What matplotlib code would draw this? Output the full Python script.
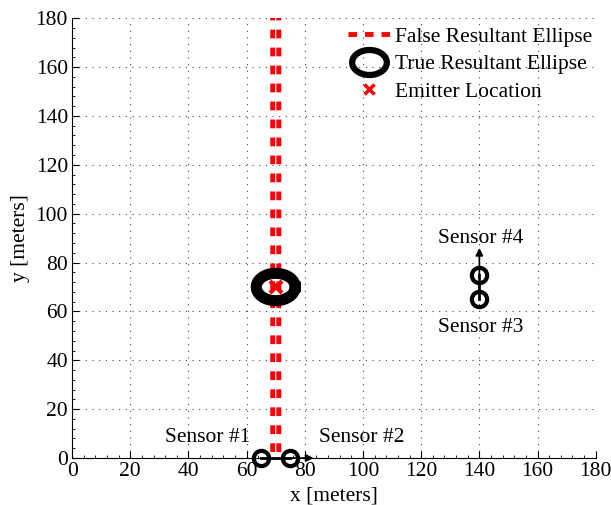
import numpy as np
import matplotlib
matplotlib.use("Agg")
import matplotlib.pyplot as plt
from matplotlib.lines import Line2D
from matplotlib.path import Path
from matplotlib.ticker import MultipleLocator

plt.rcParams['font.family'] = ['Liberation Serif', 'DejaVu Serif']

# Geometry (meters)
emitter = (70, 70)
true_ellipse_axes = (6.7, 5.6)        # semi-axes of the true resultant ellipse
false_ellipse_axes = (1.05, 2000.0)   # semi-axes of the degenerate false ellipse
sensor_x = [65, 75, 140, 140]
sensor_y = [0, 0, 65, 75]
sensor_names = ["Sensor #1", "Sensor #2", "Sensor #3", "Sensor #4"]
label_x = [46.5, 99.5, 140.5, 140.5]
label_y = [8.2, 8.2, 53.5, 90]
arrow_h = ((75, 0), (83, 0))
arrow_v = ((140, 75), (140, 86))

FS = 15.5

fig = plt.figure(figsize=(6.11, 5.05), dpi=100)
ax = fig.add_axes([0.118, 0.093, 0.857, 0.871])

dash = (0, (1.8, 1.9))
# False resultant ellipse: both long sides traced bottom-to-top so the dashes line up
t_right = np.linspace(-np.pi / 2, np.pi / 2, 2000)
t_left = np.linspace(3 * np.pi / 2, np.pi / 2, 2000)
for tt in (t_right, t_left):
    ax.plot(emitter[0] + false_ellipse_axes[0] * np.cos(tt),
            emitter[1] + false_ellipse_axes[1] * np.sin(tt),
            color='red', lw=3.5, linestyle=dash, zorder=3)

# True resultant ellipse
t = np.linspace(0, 2 * np.pi, 400)
ax.plot(emitter[0] + true_ellipse_axes[0] * np.cos(t),
        emitter[1] + true_ellipse_axes[1] * np.sin(t),
        color='black', lw=8, zorder=4)
# Emitter
ax.plot([emitter[0]], [emitter[1]], 'x', color='red', ms=9, mew=3, zorder=5)

# Sensor baselines
ax.plot(sensor_x[:2], sensor_y[:2], color='black', lw=2, zorder=4, clip_on=False)
ax.plot(sensor_x[2:], sensor_y[2:], color='black', lw=2, zorder=4)
for (s, e) in (arrow_h, arrow_v):
    ax.annotate("", xy=e, xytext=s,
                arrowprops=dict(arrowstyle='-|>', color='black', lw=1.2,
                                mutation_scale=11, shrinkA=0, shrinkB=0),
                zorder=4, annotation_clip=False)
ax.plot(sensor_x, sensor_y, 'o', ms=11, mfc='none', mec='black', mew=3,
        zorder=6, clip_on=False)
for nm, lx, ly in zip(sensor_names, label_x, label_y):
    ax.text(lx, ly, nm, ha='center', va='center', fontsize=FS)

ax.set_xlim(0, 180)
ax.set_ylim(0, 180)
ax.xaxis.set_major_locator(MultipleLocator(20))
ax.yaxis.set_major_locator(MultipleLocator(20))
ax.xaxis.set_minor_locator(MultipleLocator(4))
ax.yaxis.set_minor_locator(MultipleLocator(4))
ax.tick_params(which='both', direction='in', labelsize=FS)
ax.tick_params(which='major', length=5, pad=3)
ax.tick_params(which='minor', length=2.5)
ax.grid(True, which='major', linestyle=(0, (1, 5)), color='#444444', lw=0.8)
ax.spines['top'].set_visible(False)
ax.spines['right'].set_visible(False)
ax.set_xlabel("x [meters]", fontsize=FS, labelpad=4)
ax.set_ylabel("y [meters]", fontsize=FS, labelpad=4)

# Wide elliptical marker for the legend entry of the true ellipse
th = np.linspace(0, 2 * np.pi, 60)
ell_marker = Path(np.column_stack([np.cos(th), 0.72 * np.sin(th)]), closed=True)

handles = [
    Line2D([], [], color='red', lw=3.5, linestyle=(0, (1.75, 1.65))),
    Line2D([], [], color='black', lw=0, marker=ell_marker, ms=25,
           mfc='none', mew=4.5),
    Line2D([], [], color='red', lw=0, marker='x', ms=7, mew=2.5),
]
ax.legend(handles, ["False Resultant Ellipse", "True Resultant Ellipse",
                    "Emitter Location"],
          loc='upper right', bbox_to_anchor=(1.018, 1.01), frameon=False,
          fontsize=FS, handlelength=2.0, handletextpad=0.2,
          labelspacing=0.35, borderaxespad=0.2)

fig.savefig("out.png", dpi=100)
